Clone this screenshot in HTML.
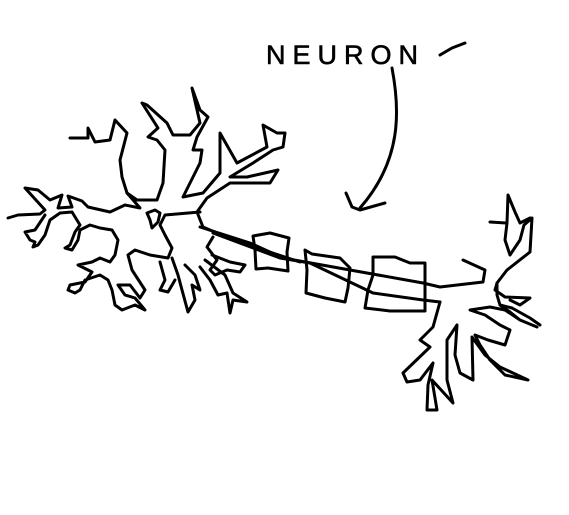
<!DOCTYPE html>
<html><head><meta charset="utf-8"><style>
html,body{margin:0;padding:0;background:#fff;width:569px;height:515px;overflow:hidden}
svg{display:block}
</style></head><body>
<svg width="569" height="515" viewBox="0 0 569 515" xmlns="http://www.w3.org/2000/svg">
<rect width="569" height="515" fill="#fff"/>
<g fill="none" stroke="#000" stroke-width="3" stroke-linejoin="round" stroke-linecap="round">
<text x="266" y="64" font-family="Liberation Sans, sans-serif" font-size="27" letter-spacing="7" fill="#000" stroke="#000" stroke-width="0.6">NEURON</text>
<polyline points="440,55 452,48 465,43"/>
<path d="M392,68 C400,110 402,160 360,208 M346,193 L352,207 L360,210 L385,203"/>
<g>
<polyline points="70,138 88,138 88,128 95,142 110,140 115,120 127,133 120,160 122,177 127,193 137,200 157,200 163,183 165,150 157,140 148,137 158,128 142,103 147,105 167,123 173,135 190,135 200,123 192,88 200,110 208,117 197,137 193,150 202,150 200,163 183,197 203,193 220,173 220,133 237,163 267,147 263,125 277,133 285,133 283,147 273,150 253,163 230,177 247,177 278,170 270,183 230,183 207,198 197,212 203,227 233,240 300,262"/>
<polyline points="8,218 18,215 40,214 45,210 25,188 38,190 50,200 62,195 58,208 72,207 68,196 82,201 88,207 110,212 125,205 140,208 127,193"/>
<polyline points="45,215 35,230 25,232 30,240 35,242 33,247 38,245 45,235 50,220 60,213 72,212 80,225 75,232 70,245 65,248 72,250 78,240 80,230 90,225 100,228 112,230 118,240 115,255 110,262 100,258 92,262 78,265 92,272 85,282 70,285 68,290 75,293 80,290 85,280 100,275 108,280 112,290 115,305 122,310 135,305 145,310 135,298 125,295 118,285 130,285 140,298 145,290 132,270 128,255 135,250 150,255 168,258 172,248 165,235 160,225 165,215 200,212"/>
<polyline points="150,220 147,213 155,210 160,213 158,222 152,228 150,220"/>
<polyline points="213,237 207,247 217,260 210,270 215,275 227,270 240,272 245,265 230,262 212,255"/>
<polyline points="200,267 210,280 218,295 227,293 230,313 233,300 247,302 233,293 225,275 205,260"/>
<polyline points="172,258 178,275 182,290 188,312 195,300 192,285 200,290 195,275 185,265"/>
<polyline points="160,262 165,280 160,290 168,292 175,280"/>
</g>
<g>
<polyline points="200,227 250,243 283,258 350,270 423,283 440,287 483,282 485,270 463,260"/>
<polyline points="213,233 280,258 310,263 373,293 423,300 440,302"/>
</g>
<polygon points="253,236 270,233 289,238 287,252 288,271 268,268 256,269 255,250"/>
<polygon points="305,250 312,254 340,258 350,268 348,288 345,302 325,298 306,293 307,270"/>
<polygon points="373,257 395,257 410,263 425,263 425,311 390,311 365,308 368,290 373,275"/>
<g>
<polyline points="440,302 433,327 420,340 430,347 403,373 407,382 420,380 433,363 428,385 427,410 437,410 432,380 453,403 447,380 447,340 457,325 455,355 460,373 473,380 472,337 485,355 500,367 528,380 505,375 490,360 480,345 475,335 488,340 505,345 510,330 500,325 485,315 470,310 490,307 505,310 520,320 537,327 520,320 510,312 500,305 497,295 497,283 507,270 530,252 532,218 524,225 520,240 510,255 505,240 507,223 508,195 515,212 520,223 530,218"/>
<polyline points="497,283 495,290 505,297 530,298 520,305 510,300"/>
<polyline points="506,223 490,222"/>
<polyline points="500,305 512,308 530,318 540,325"/>
</g>
</g>
</svg>
</body></html>
